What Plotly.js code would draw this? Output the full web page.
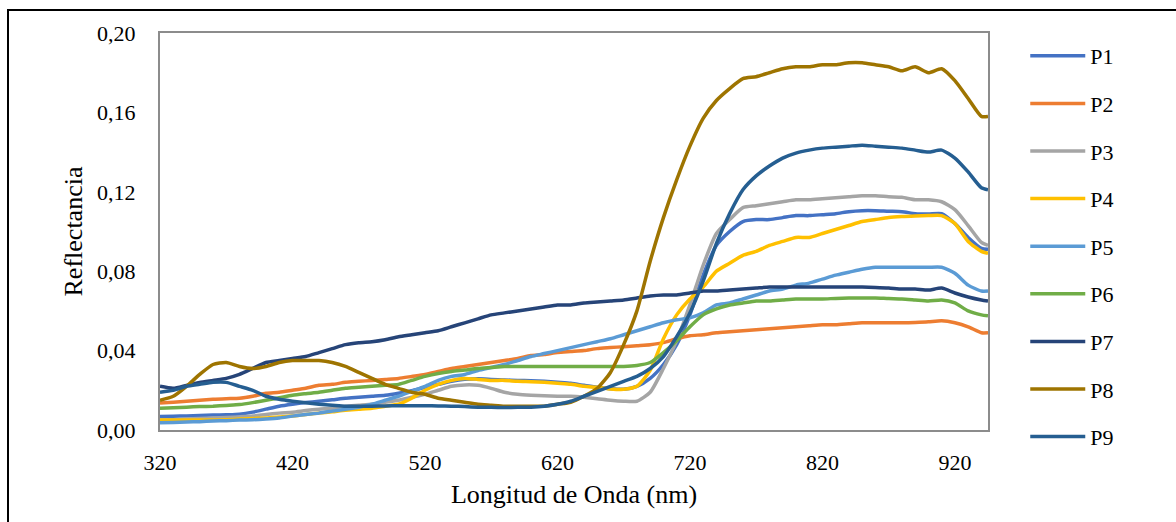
<!DOCTYPE html>
<html>
<head>
<meta charset="utf-8">
<script src="https://cdn.plot.ly/plotly-3.0.1.min.js"></script>
<style>
html,body{margin:0;padding:0;background:#fff;}
#wrap{position:relative;width:1176px;height:522px;overflow:hidden;}
#chart{position:absolute;left:0;top:0;width:1176px;height:522px;}
#frame{position:absolute;left:7px;top:9px;width:1200px;height:600px;border-left:2px solid #000;border-top:2px solid #000;pointer-events:none;}
</style>
</head>
<body>
<div id="wrap"><div id="chart"></div><div id="frame"></div></div>
<script>
const wavelength = [320,330,340,350,360,370,380,390,400,410,420,430,440,450,460,470,480,490,500,510,520,530,540,550,560,570,580,590,600,610,620,630,640,650,660,670,680,690,700,710,720,730,740,750,760,770,780,790,800,810,820,830,840,850,860,870,880,890,900,910,920,930,940,945];

const P1 = [0.0068,0.0069,0.0071,0.0073,0.0075,0.0077,0.008,0.009,0.0105,0.012,0.013,0.0138,0.0145,0.0152,0.016,0.0165,0.017,0.0175,0.0185,0.0198,0.0215,0.023,0.0245,0.0255,0.0258,0.0255,0.0252,0.025,0.0248,0.0245,0.024,0.0235,0.0225,0.0215,0.0208,0.0205,0.022,0.026,0.033,0.043,0.058,0.078,0.093,0.100,0.105,0.106,0.106,0.107,0.108,0.108,0.1085,0.109,0.110,0.1105,0.1105,0.1102,0.110,0.109,0.1088,0.109,0.104,0.097,0.0915,0.091];
const P2 = [0.0136,0.014,0.0145,0.015,0.0155,0.0158,0.016,0.017,0.0185,0.019,0.020,0.021,0.0225,0.023,0.024,0.0245,0.025,0.0255,0.026,0.027,0.028,0.0295,0.031,0.032,0.033,0.034,0.035,0.036,0.0375,0.038,0.039,0.0395,0.040,0.041,0.0415,0.042,0.0425,0.043,0.044,0.046,0.0475,0.048,0.049,0.0495,0.050,0.0505,0.051,0.0515,0.052,0.0525,0.053,0.053,0.0535,0.054,0.054,0.054,0.054,0.0542,0.0545,0.055,0.054,0.052,0.049,0.049];
const P3 = [0.005,0.0052,0.0055,0.0058,0.006,0.0063,0.0066,0.007,0.0078,0.0085,0.009,0.0098,0.0105,0.011,0.012,0.0125,0.013,0.014,0.015,0.0165,0.018,0.020,0.022,0.0227,0.0225,0.021,0.019,0.018,0.0175,0.0172,0.017,0.017,0.0165,0.0158,0.015,0.0145,0.0145,0.019,0.031,0.045,0.063,0.083,0.099,0.106,0.112,0.113,0.114,0.115,0.116,0.116,0.1165,0.117,0.1175,0.118,0.118,0.1175,0.1172,0.116,0.116,0.115,0.111,0.103,0.0945,0.093];
const P4 = [0.005,0.005,0.005,0.005,0.005,0.0052,0.0055,0.0058,0.006,0.0065,0.007,0.0078,0.0085,0.0092,0.010,0.0105,0.011,0.012,0.013,0.016,0.020,0.023,0.025,0.026,0.0255,0.025,0.025,0.0245,0.0243,0.024,0.0235,0.023,0.022,0.0215,0.0207,0.0205,0.022,0.030,0.046,0.058,0.066,0.072,0.080,0.084,0.088,0.090,0.093,0.095,0.097,0.097,0.099,0.101,0.103,0.105,0.106,0.107,0.1075,0.1078,0.108,0.108,0.104,0.095,0.090,0.089];
const P5 = [0.0037,0.0038,0.004,0.0042,0.0045,0.0047,0.005,0.0052,0.0055,0.006,0.007,0.0078,0.0085,0.0095,0.0105,0.0115,0.013,0.015,0.017,0.0195,0.022,0.025,0.027,0.028,0.030,0.0315,0.033,0.035,0.037,0.0385,0.040,0.0415,0.043,0.0445,0.046,0.048,0.050,0.052,0.054,0.0555,0.0565,0.059,0.063,0.064,0.066,0.068,0.070,0.071,0.073,0.074,0.076,0.078,0.0795,0.081,0.082,0.082,0.082,0.082,0.082,0.082,0.079,0.073,0.070,0.070];
const P6 = [0.011,0.0112,0.0115,0.0118,0.012,0.0124,0.0128,0.0138,0.015,0.0162,0.0175,0.0183,0.019,0.020,0.021,0.0215,0.022,0.0225,0.023,0.025,0.027,0.0285,0.0295,0.0302,0.031,0.0315,0.032,0.032,0.032,0.032,0.032,0.032,0.032,0.032,0.032,0.032,0.0325,0.034,0.039,0.045,0.052,0.058,0.061,0.063,0.064,0.065,0.065,0.0655,0.066,0.066,0.066,0.0663,0.0665,0.0665,0.0665,0.0662,0.066,0.0655,0.065,0.0655,0.064,0.060,0.058,0.0575];
const P7 = [0.022,0.021,0.0225,0.024,0.025,0.026,0.028,0.031,0.034,0.035,0.036,0.037,0.039,0.041,0.043,0.044,0.0445,0.0455,0.047,0.048,0.049,0.050,0.052,0.054,0.056,0.058,0.059,0.060,0.061,0.062,0.063,0.063,0.064,0.0645,0.065,0.0655,0.0665,0.0675,0.068,0.068,0.069,0.070,0.070,0.0705,0.071,0.0715,0.072,0.072,0.072,0.072,0.072,0.072,0.072,0.072,0.0718,0.0715,0.071,0.071,0.0705,0.0715,0.069,0.067,0.0655,0.065];
const P8 = [0.015,0.017,0.022,0.028,0.033,0.034,0.032,0.031,0.032,0.034,0.035,0.035,0.035,0.034,0.032,0.029,0.026,0.023,0.021,0.019,0.018,0.016,0.015,0.014,0.013,0.0125,0.012,0.012,0.012,0.012,0.013,0.014,0.017,0.021,0.029,0.043,0.060,0.085,0.107,0.126,0.143,0.157,0.166,0.172,0.177,0.178,0.180,0.182,0.183,0.183,0.184,0.184,0.185,0.185,0.184,0.183,0.181,0.183,0.180,0.182,0.176,0.167,0.158,0.158];
const P9 = [0.019,0.020,0.022,0.023,0.024,0.024,0.022,0.020,0.017,0.0155,0.0145,0.0137,0.013,0.0125,0.012,0.012,0.012,0.0121,0.0122,0.0122,0.0122,0.0121,0.012,0.0118,0.0115,0.0114,0.0113,0.0114,0.0115,0.012,0.013,0.0145,0.017,0.0195,0.022,0.0245,0.027,0.031,0.037,0.047,0.059,0.075,0.094,0.109,0.121,0.128,0.133,0.137,0.1395,0.141,0.142,0.1425,0.143,0.1435,0.143,0.1425,0.142,0.141,0.140,0.141,0.137,0.130,0.122,0.121];

const seriesNames = ['P1','P2','P3','P4','P5','P6','P7','P8','P9'];
const seriesData = [P1,P2,P3,P4,P5,P6,P7,P8,P9];
const colors = ['#4472C4','#ED7D31','#A5A5A5','#FFC000','#5B9BD5','#70AD47','#264478','#9E7400','#255E91'];

const traces = seriesNames.map((n,i)=>({
  x: wavelength, y: seriesData[i], name: n, type:'scatter', mode:'lines',
  line:{color:colors[i], width:3.5, shape:'spline', smoothing:0.6},
  legendgroup:n
}));

const font = '"Times New Roman", "Liberation Serif", serif';
const layout = {
  width:1176, height:522,
  margin:{l:160, r:188, t:33, b:92, pad:0},
  paper_bgcolor:'rgba(0,0,0,0)', plot_bgcolor:'#fff',
  separators:',.',
  font:{family:font, size:22, color:'#000'},
  showlegend:true,
  legend:{x:1.045, y:0.995, xanchor:'left', yanchor:'top', font:{family:font,size:22,color:'#000'}, tracegroupgap:16, itemwidth:55, maxheight:520, bgcolor:'rgba(0,0,0,0)'},
  xaxis:{range:[320,945], tick0:320, dtick:100, tickmode:'linear', showgrid:false, zeroline:false,
    showline:true, mirror:true, linecolor:'#8c8c8c', linewidth:2, ticks:'', ticklabelstandoff:12,
    tickfont:{family:font,size:22,color:'#000'},
    title:{text:'Longitud de Onda (nm)', font:{family:font,size:26,color:'#000'}, standoff:10}},
  yaxis:{range:[0,0.2], tick0:0, dtick:0.04, tickmode:'linear', tickformat:'.2f', showgrid:false, zeroline:false,
    showline:true, mirror:true, linecolor:'#8c8c8c', linewidth:2, ticks:'', ticklabelstandoff:18,
    tickfont:{family:font,size:22,color:'#000'},
    title:{text:'Reflectancia', font:{family:font,size:26,color:'#000'}, standoff:7}}
};
Plotly.newPlot('chart', traces, layout, {displayModeBar:false, staticPlot:true});
</script>
</body>
</html>
